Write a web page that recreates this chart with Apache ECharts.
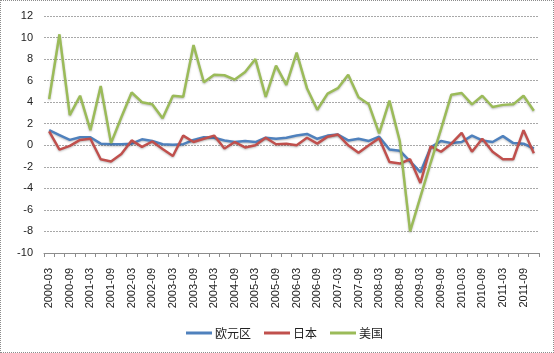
<!DOCTYPE html>
<html>
<head>
<meta charset="utf-8">
<script src="https://cdn.jsdelivr.net/npm/echarts@6/dist/echarts.min.js"></script>
<style>
  html, body { margin: 0; padding: 0; background: #fff; }
  #chart { width: 552px; height: 351px; border: 1px dotted #8c8c8c; }
</style>
</head>
<body>
<div id="chart"></div>
<script>
// 季度 2000-03 ~ 2011-12
var quarters = [];
for (var y = 2000; y <= 2011; y++) {
  ['03', '06', '09', '12'].forEach(function (m) { quarters.push(y + '-' + m); });
}

var euroArea = [1.4, 0.95, 0.5, 0.75, 0.75, 0.15, 0.1, 0.1, 0.15, 0.55, 0.4, 0.1,
  0.05, 0.1, 0.5, 0.75, 0.7, 0.45, 0.3, 0.4, 0.3, 0.7, 0.6, 0.7,
  0.9, 1.05, 0.6, 0.9, 1.0, 0.45, 0.6, 0.4, 0.8, -0.4, -0.5, -1.5,
  -2.5, -0.2, 0.4, 0.2, 0.3, 0.9, 0.45, 0.3, 0.85, 0.2, 0.15, -0.3];

var japan = [1.3, -0.4, -0.05, 0.5, 0.6, -1.3, -1.5, -0.8, 0.45, -0.15, 0.35, -0.35,
  -1.0, 0.9, 0.3, 0.6, 0.9, -0.3, 0.3, -0.2, 0.0, 0.7, 0.1, 0.15,
  0.0, 0.7, 0.15, 0.8, 1.0, 0.0, -0.7, 0.0, 0.65, -1.55, -1.7, -1.3,
  -3.5, -0.1, -0.6, 0.15, 1.15, -0.6, 0.6, -0.6, -1.3, -1.3, 1.4, -0.75];

var usa = [4.3, 10.3, 2.8, 4.6, 1.4, 5.5, 0.2, 2.6, 4.9, 4.0, 3.8, 2.5,
  4.6, 4.5, 9.3, 5.85, 6.55, 6.5, 6.1, 6.8, 8.0, 4.5, 7.4, 5.6,
  8.6, 5.3, 3.3, 4.8, 5.3, 6.55, 4.45, 3.8, 1.1, 4.15, 0.4, -8.0,
  -4.8, -1.6, 1.5, 4.7, 4.85, 3.8, 4.6, 3.55, 3.75, 3.8, 4.6, 3.2];

var seriesNames = ['欧元区', '日本', '美国'];
var seriesColors = ['#4F81BD', '#C0504D', '#9BBB59'];
var seriesData = [euroArea, japan, usa];

var myChart = echarts.init(document.getElementById('chart'));

function lineSeries(i) {
  return {
    name: seriesNames[i],
    type: 'line',
    data: seriesData[i],
    showSymbol: false,
    symbol: 'none',
    animation: false,
    lineStyle: {
      color: seriesColors[i],
      width: 2.5,
      shadowColor: 'rgba(0,0,0,0.25)',
      shadowBlur: 2,
      shadowOffsetY: 1
    },
    itemStyle: { color: seriesColors[i] }
  };
}

var option = {
  animation: false,
  grid: { left: 43, right: 14, top: 15, bottom: 99 },
  legend: {
    bottom: 8,
    left: 180,
    itemWidth: 26,
    itemHeight: 3,
    itemGap: 13,
    icon: 'rect',
    textStyle: { color: '#222', fontSize: 12, fontFamily: 'Noto Sans CJK SC', padding: [0, 0, 0, -2] },
    data: seriesNames
  },
  xAxis: [{
    type: 'category',
    data: quarters,
    boundaryGap: true,
    axisLine: { show: false },
    axisTick: { show: false },
    axisLabel: {
      interval: 1,
      rotate: 90,
      margin: 15,
      color: '#222',
      fontSize: 11,
      fontFamily: 'Liberation Sans'
    }
  }, {
    type: 'category',
    data: quarters,
    boundaryGap: true,
    position: 'bottom',
    axisLine: { onZero: true, lineStyle: { color: '#8c8c8c', width: 1 } },
    axisTick: { show: true, interval: 0, length: 4, lineStyle: { color: '#8c8c8c' } },
    axisLabel: { show: false }
  }],
  yAxis: {
    type: 'value',
    min: -10,
    max: 12,
    interval: 2,
    axisLine: { show: false },
    axisTick: { show: false },
    axisLabel: {
      margin: 11,
      color: '#222',
      fontSize: 11,
      fontFamily: 'Liberation Sans'
    },
    splitLine: { lineStyle: { color: '#a8a8a8', type: [2, 1], width: 1 } }
  },
  series: [lineSeries(0), lineSeries(1), lineSeries(2)]
};

myChart.setOption(option);
</script>
</body>
</html>
